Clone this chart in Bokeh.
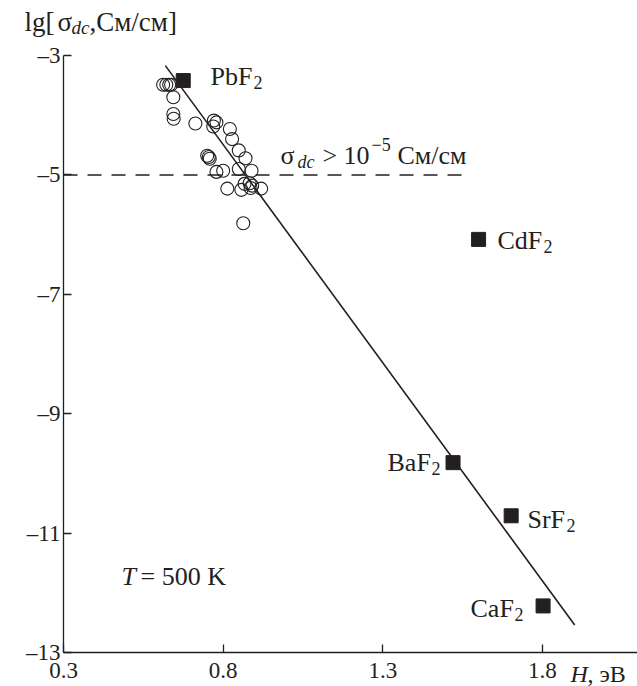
from bokeh.plotting import figure
from bokeh.models import Range1d, Label, FixedTicker, ColumnDataSource
from bokeh.embed import file_html
from bokeh.resources import INLINE

# ---------------- data ----------------
compounds = ["PbF2", "CdF2", "BaF2", "SrF2", "CaF2"]
comp_H = [0.675, 1.600, 1.520, 1.702, 1.802]
comp_lg = [-3.42, -6.08, -9.82, -10.71, -12.22]

circ_H = [0.612, 0.622, 0.631, 0.637, 0.644, 0.644, 0.645, 0.713, 0.771, 0.779,
          0.769, 0.821, 0.828, 0.849, 0.870, 0.750, 0.755, 0.758, 0.779, 0.800,
          0.849, 0.889, 0.867, 0.883, 0.891, 0.886, 0.813, 0.857, 0.919, 0.863]
circ_lg = [-3.49, -3.49, -3.49, -3.49, -3.70, -3.98, -4.06, -4.14, -4.09, -4.12,
           -4.19, -4.23, -4.40, -4.59, -4.72, -4.68, -4.70, -4.73, -4.95, -4.93,
           -4.90, -4.93, -5.15, -5.14, -5.18, -5.22, -5.23, -5.25, -5.23, -5.81]

fit_H = [0.619, 1.901]
fit_lg = [-3.17, -12.54]

threshold_H = [0.3, 1.575]
threshold_lg = [-5.0, -5.0]

x_ticks = [0.3, 0.8, 1.3, 1.8]
x_tick_labels = ["0.3", "0.8", "1.3", "1.8"]
y_ticks = [-3, -5, -7, -9, -11, -13]
y_tick_labels = ["\u20133", "\u20135", "\u20137", "\u20139", "\u201311", "\u201313"]

H_MIN, H_MAX = 0.3, 2.0977
LG_MIN, LG_MAX = -13.0, -3.0

# ---------------- layout ----------------
INK = "#231f20"
FONT = "Liberation Serif"
W, H = 637, 686
# pixel position of the axis corner and scale of the original drawing
AX_LEFT, AX_TOP, AX_BOTTOM = 63, 55, 652
PX_PER_H = 319.3
PX_PER_LG = (AX_BOTTOM - AX_TOP) / (LG_MAX - LG_MIN)

X0 = H_MIN - AX_LEFT / PX_PER_H
X1 = H_MIN + (W - AX_LEFT) / PX_PER_H
Y1 = LG_MAX + AX_TOP / PX_PER_LG
Y0 = LG_MIN - (H - AX_BOTTOM) / PX_PER_LG

p = figure(width=W, height=H, output_backend="svg", toolbar_location=None,
           x_range=Range1d(X0, X1), y_range=Range1d(Y0, Y1),
           min_border=0, min_border_left=0, min_border_right=0,
           min_border_top=0, min_border_bottom=0)
p.outline_line_color = None
p.grid.visible = False
p.background_fill_color = "white"
p.border_fill_color = "white"

p.xaxis.fixed_location = LG_MIN
p.xaxis.bounds = (H_MIN, X1)
p.yaxis.fixed_location = H_MIN
p.yaxis.bounds = (LG_MIN, LG_MAX)

for ax in (p.xaxis[0], p.yaxis[0]):
    ax.axis_line_color = INK
    ax.axis_line_width = 1.3
    ax.major_tick_line_color = INK
    ax.major_tick_line_width = 1.3
    ax.major_tick_in = 8
    ax.major_tick_out = 0
    ax.minor_tick_line_color = None
    ax.major_label_text_font = FONT
    ax.major_label_text_font_size = "23px"
    ax.major_label_text_color = INK

p.xaxis.ticker = FixedTicker(ticks=x_ticks)
p.yaxis.ticker = FixedTicker(ticks=y_ticks)
p.xaxis.major_label_overrides = dict(zip(x_ticks, x_tick_labels))
p.yaxis.major_label_overrides = dict(zip(y_ticks, y_tick_labels))
p.xaxis.major_label_standoff = 10
p.yaxis.major_label_standoff = 3

# ---------------- marks ----------------
p.line(threshold_H, threshold_lg, line_color=INK, line_width=1.5, line_dash="14 10")
p.line(fit_H, fit_lg, line_color=INK, line_width=1.6)
p.scatter(circ_H, circ_lg, marker="circle", size=13, fill_color=None,
          line_color=INK, line_width=1.1)
src = ColumnDataSource(dict(H=comp_H, lg=comp_lg, name=compounds))
p.scatter("H", "lg", source=src, marker="square", size=14, fill_color=INK,
          line_color=INK)

# ---------------- texts ----------------
TEXT_DY = -7


def px2x(px):
    return X0 + px / W * (X1 - X0)


def py2y(py):
    return Y1 - py / H * (Y1 - Y0)


def txt(px, py, s, size=26, italic=False):
    py = py + TEXT_DY
    p.add_layout(Label(x=px2x(px), y=py2y(py), text=s, text_font=FONT,
                       text_font_size=f"{size}px", text_color=INK,
                       text_font_style="italic" if italic else "normal",
                       text_baseline="alphabetic", text_align="left"))


# y-axis title
txt(24, 28, "lg[", 27)
txt(57, 28, "\u03c3", 27)
txt(71, 34, "dc", 19, italic=True)
txt(89, 28, ",См/см]", 27)

# x-axis title
txt(570, 680, "H", 24, italic=True)
txt(587, 680, ", эВ", 24)

# threshold label
txt(280, 162, "\u03c3", 26)
txt(297, 168, "dc", 18, italic=True)
txt(322, 162, ">", 26)
txt(343, 162, "10", 26)
txt(371, 151, "\u22125", 18)
txt(397, 162, "См/см", 26)

# compound labels
txt(210, 83, "PbF", 26)
txt(253, 89, "2", 18)
txt(497, 247, "CdF", 26)
txt(543, 253, "2", 18)
txt(387, 469, "BaF", 26)
txt(431, 475, "2", 18)
txt(527, 526, "SrF", 26)
txt(566, 532, "2", 18)
txt(470, 615, "CaF", 26)
txt(514, 621, "2", 18)

# temperature
txt(121, 583, "T", 26, italic=True)
txt(140, 583, "= 500 K", 26)

open("out.html", "w").write(file_html(p, INLINE))
